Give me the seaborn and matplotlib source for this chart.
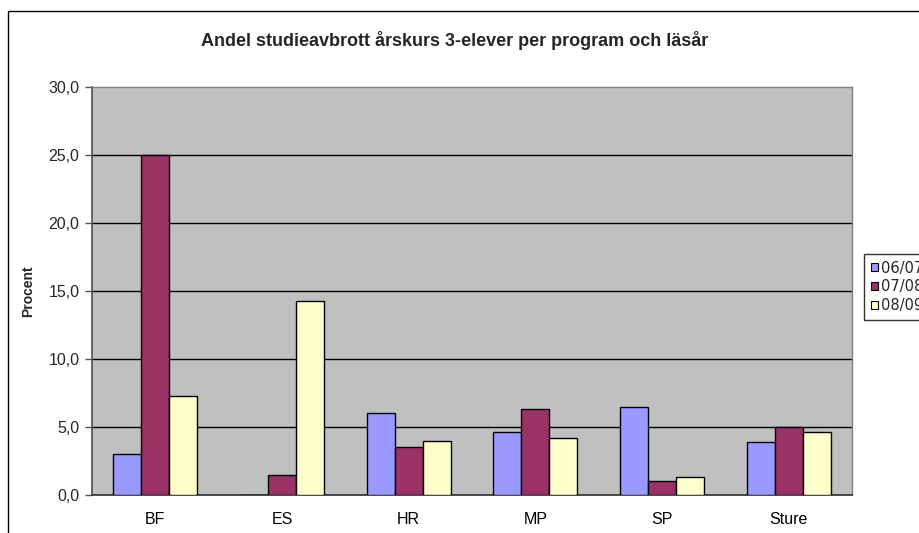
import matplotlib
matplotlib.use("Agg")
import matplotlib.pyplot as plt
import matplotlib.patches as mpatches
from matplotlib.ticker import FuncFormatter, FixedLocator
import seaborn as sns
import pandas as pd
import numpy as np

categories = ["BF", "ES", "HR", "MP", "SP", "Sture"]
series_names = ["06/07", "07/08", "08/09"]
v_0607 = [3.0, 0.0, 6.0, 4.6, 6.5, 3.9]
v_0708 = [25.0, 1.5, 3.5, 6.3, 1.0, 5.0]
v_0809 = [7.3, 14.3, 4.0, 4.2, 1.3, 4.6]
colors = ["#9999FF", "#993366", "#FFFFCC"]
title = "Andel studieavbrott årskurs 3-elever per program och läsår"
ylabel = "Procent"
yticks = [0, 5, 10, 15, 20, 25, 30]

df = pd.DataFrame({
    "Program": categories * 3,
    "Läsår": [s for s in series_names for _ in categories],
    "Procent": v_0607 + v_0708 + v_0809,
})

sns.set_theme(style="white")
plt.rcParams["font.family"] = ["Liberation Sans", "DejaVu Sans"]

W, H = 920, 533
fig = plt.figure(figsize=(W / 100, H / 100), dpi=100)
fig.patch.set_facecolor("white")
ax = fig.add_axes([92 / W, 1 - 495 / H, (852 - 92) / W, (495 - 87) / H])
ax.set_facecolor("#C0C0C0")

sns.barplot(data=df, x="Program", y="Procent", hue="Läsår",
            hue_order=series_names, order=categories, palette=colors,
            width=0.665, edgecolor="black", linewidth=1.0, saturation=1,
            errorbar=None, ax=ax, legend=False, zorder=3)

ax.set_ylim(0, 30)
ax.set_xlim(-0.5, len(categories) - 0.5)
ax.yaxis.set_major_locator(FixedLocator(yticks))
ax.yaxis.set_major_formatter(FuncFormatter(lambda v, p: f"{v:.1f}".replace(".", ",")))
for y in yticks[1:-1]:
    ax.axhline(y, color="black", linewidth=1.0, zorder=1)

ax.set_xticks(range(len(categories)))
ax.set_xticklabels(categories)
ax.set_xticks(np.arange(-0.5, len(categories), 1.0), minor=True)
ax.tick_params(axis="x", which="major", length=0, pad=12, labelsize=11.5, colors="black")
ax.tick_params(axis="x", which="minor", length=5, width=1, color="#555555", direction="out")
ax.tick_params(axis="y", which="major", length=5, width=1, color="#555555", direction="out",
               labelsize=11.5, pad=4, left=True)
ax.set_xlabel("")
ax.set_ylabel(ylabel, fontsize=10, fontweight="bold")
ax.yaxis.set_label_coords((35 - 92) / 760, 0.5)

for side in ["top", "right"]:
    ax.spines[side].set_color("#808080")
    ax.spines[side].set_linewidth(1.0)
ax.spines["left"].set_color("#555555")
ax.spines["bottom"].set_color("#333333")
for s in ax.spines.values():
    s.set_visible(True)

fig.text(455 / W, 1 - 40 / H, title, ha="center", va="center",
         fontsize=13, fontweight="bold")

# outer chart border
fig.patches.append(mpatches.Rectangle((8 / W, -0.1), 1.2, 1 - 11 / H + 0.1,
                                      transform=fig.transFigure, fill=False,
                                      edgecolor="black", linewidth=1.0))

handles = [mpatches.Patch(facecolor=c, edgecolor="black", linewidth=0.8) for c in colors]
leg = fig.legend(handles, series_names, loc="upper left",
                 bbox_to_anchor=(864.5 / W, 1 - 254 / H), frameon=True, fancybox=False,
                 edgecolor="black", prop={"family": "DejaVu Sans", "size": 10.5},
                 handlelength=0.45, handleheight=0.45,
                 handletextpad=0.2, labelspacing=0.27, borderpad=0.45, borderaxespad=0)
leg.get_frame().set_linewidth(1.0)

fig.savefig("out.png", dpi=100)
